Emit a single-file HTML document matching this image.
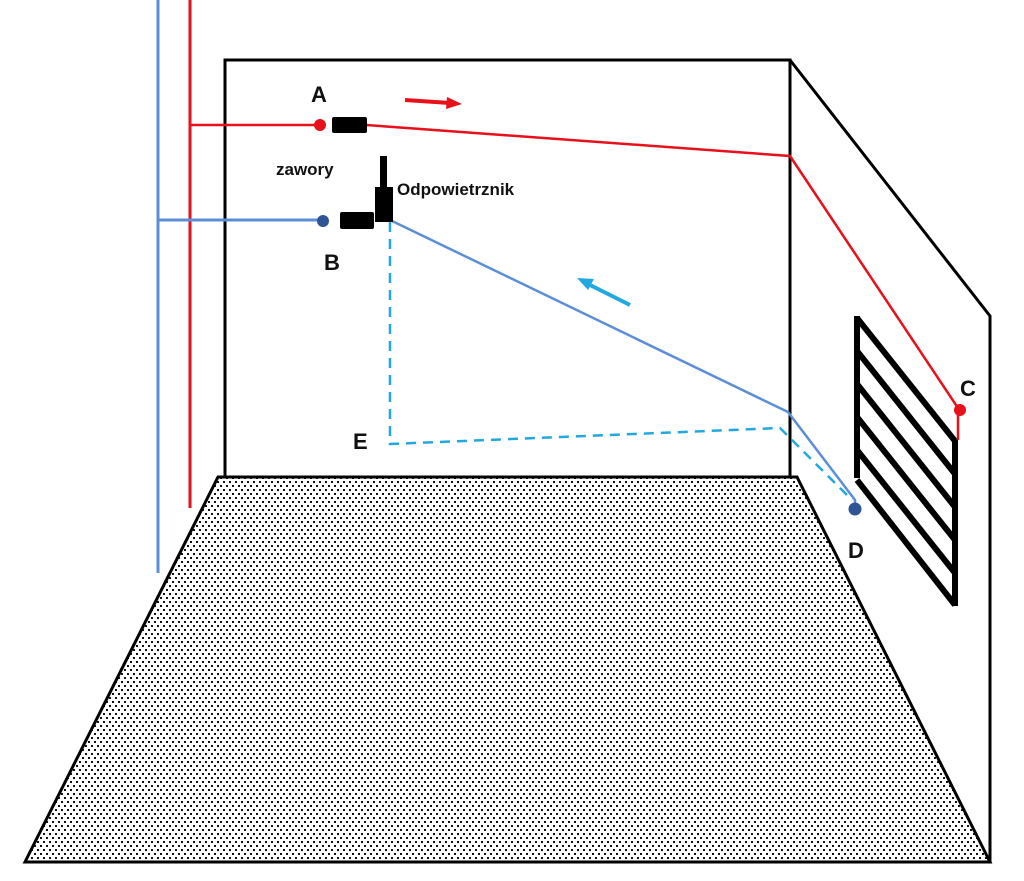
<!DOCTYPE html>
<html><head><style>html,body{margin:0;padding:0;background:#fff}svg{display:block}</style></head>
<body>
<svg width="1024" height="881" viewBox="0 0 1024 881" xmlns="http://www.w3.org/2000/svg" font-family="Liberation Sans, sans-serif" font-weight="bold">
<defs>
<pattern id="dots" width="6" height="8" patternUnits="userSpaceOnUse">
<rect width="6" height="8" fill="#fff"/><rect x="1" y="1" width="2" height="2" fill="#111"/><rect x="4" y="5" width="2" height="2" fill="#111"/>
</pattern>
</defs>
<rect x="225" y="60" width="565" height="418" fill="none" stroke="#000" stroke-width="3"/>
<polyline points="790,60 990,316 990,862" fill="none" stroke="#000" stroke-width="3"/>
<polygon points="218,477 797,477 990,862 25,862" fill="url(#dots)" stroke="#000" stroke-width="3"/>
<line x1="158" y1="0" x2="158" y2="573" stroke="#5b8ed6" stroke-width="3"/>
<line x1="190" y1="0" x2="190" y2="508" stroke="#e8101a" stroke-width="3"/>
<polyline points="190,125 320,125" fill="none" stroke="#e8101a" stroke-width="2.5"/>
<polyline points="366,125 790,156 958,408 958,440" fill="none" stroke="#e8101a" stroke-width="2.5"/>
<circle cx="320" cy="125" r="6" fill="#e8101a"/>
<circle cx="960" cy="410" r="6" fill="#e8101a"/>
<rect x="332" y="117" width="35" height="16" rx="2" fill="#000"/>
<line x1="158" y1="220" x2="323" y2="220" stroke="#5b8ed6" stroke-width="3"/>
<polyline points="390,220 788,412 855,500 855,508" fill="none" stroke="#5b8ed6" stroke-width="2.5"/>
<polyline points="390,222 390,444 780,428 852,500" fill="none" stroke="#22a8e0" stroke-width="2.5" stroke-dasharray="10,7"/>
<circle cx="323" cy="221" r="6" fill="#2f5597"/>
<circle cx="855" cy="509" r="6.5" fill="#2f5597"/>
<rect x="340" y="212" width="34" height="17" rx="2" fill="#000"/>
<rect x="375" y="187" width="18" height="35" fill="#000"/>
<rect x="380" y="156" width="7" height="32" fill="#000"/>
<g stroke="#000" stroke-width="6" fill="none">
<line x1="857" y1="316" x2="857" y2="478"/>
<line x1="955" y1="440" x2="955" y2="606"/>
<line x1="857" y1="318" x2="955" y2="441"/>
<line x1="857" y1="351" x2="955" y2="474"/>
<line x1="857" y1="384" x2="955" y2="507"/>
<line x1="857" y1="417" x2="955" y2="540"/>
<line x1="857" y1="450" x2="955" y2="573"/>
<line x1="857" y1="480" x2="955" y2="605"/>
</g>
<line x1="405" y1="100" x2="450" y2="103" stroke="#e8101a" stroke-width="4"/>
<polygon points="462,104 447,97 446,109" fill="#e8101a"/>
<line x1="630" y1="305" x2="588" y2="284" stroke="#22a8e0" stroke-width="4"/>
<polygon points="577,278 594,279 588,290" fill="#22a8e0"/>
<g font-size="22" fill="#111">
<text x="311" y="102">A</text>
<text x="324" y="270">B</text>
<text x="960" y="396">C</text>
<text x="848" y="558">D</text>
<text x="353" y="449">E</text>
</g>
<text x="276" y="175" font-size="17" fill="#111">zawory</text>
<text x="397" y="195" font-size="17" fill="#111">Odpowietrznik</text>
</svg>
</body></html>
